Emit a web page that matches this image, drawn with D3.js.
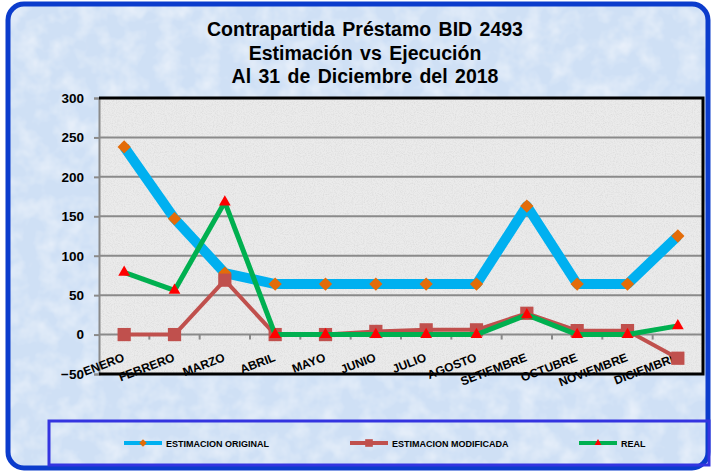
<!DOCTYPE html>
<html>
<head>
<meta charset="utf-8">
<script src="https://cdn.jsdelivr.net/npm/d3@7"></script>
<style>
body { margin: 0; background: #ffffff; }
</style>
</head>
<body>
<script>
var months = ["ENERO", "FEBRERO", "MARZO", "ABRIL", "MAYO", "JUNIO", "JULIO",
    "AGOSTO", "SETIEMBRE", "OCTUBRE", "NOVIEMBRE", "DICIEMBRE"];
var original = [238, 147, 78, 64, 64, 64, 64, 64, 163, 64, 64, 125];
var modificada = [0, 0, 69, 0, 0, 4, 6, 6, 27, 5, 5, -30];
var real = [79, 56, 168, 0, 0, 0, 0, 0, 25, 0, 0, 11];
var yTicks = [-50, 0, 50, 100, 150, 200, 250, 300];
var titleLines = ["Contrapartida Préstamo BID 2493", "Estimación vs Ejecución", "Al 31 de Diciembre del 2018"];
var legendNames = ["ESTIMACION ORIGINAL", "ESTIMACION MODIFICADA", "REAL"];

var svg = d3.select("body")
    .append("svg")
    .attr("width", 711)
    .attr("height", 473);

var defs = svg.append("defs");

// soft blue paper texture for the chart background
var f1 = defs.append("filter").attr("id", "paper")
    .attr("x", 0).attr("y", 0).attr("width", 1).attr("height", 1);
f1.append("feTurbulence").attr("type", "fractalNoise")
    .attr("baseFrequency", "0.05").attr("numOctaves", 3).attr("seed", 4).attr("result", "n");
f1.append("feColorMatrix").attr("in", "n").attr("type", "matrix")
    .attr("values", "0 0 0 0 1  0 0 0 0 1  0 0 0 0 1  0 0 0 -0.9 0.55").attr("result", "w");
f1.append("feComposite").attr("in", "w").attr("in2", "SourceGraphic").attr("operator", "atop");

// fine gray granite for the plot area
var f2 = defs.append("filter").attr("id", "granite")
    .attr("x", 0).attr("y", 0).attr("width", 1).attr("height", 1);
f2.append("feTurbulence").attr("type", "fractalNoise")
    .attr("baseFrequency", "0.9").attr("numOctaves", 2).attr("seed", 2).attr("result", "n");
f2.append("feColorMatrix").attr("in", "n").attr("type", "matrix")
    .attr("values", "0 0 0 0 0.6  0 0 0 0 0.6  0 0 0 0 0.6  0 0 0 -1.0 0.6").attr("result", "g");
f2.append("feComposite").attr("in", "g").attr("in2", "SourceGraphic").attr("operator", "atop");

svg.append("rect")
    .attr("x", 8).attr("y", 4)
    .attr("width", 700).attr("height", 464)
    .attr("rx", 16)
    .attr("fill", "#cfe0f5")
    .attr("filter", "url(#paper)");
svg.append("rect")
    .attr("x", 8).attr("y", 4)
    .attr("width", 700).attr("height", 464)
    .attr("rx", 16)
    .attr("fill", "none")
    .attr("stroke", "#0b3ccc")
    .attr("stroke-width", 5);

// title
svg.append("g")
    .selectAll("text")
    .data(titleLines)
    .enter()
        .append("text")
        .attr("x", 365)
        .attr("y", function (d, i) { return 36 + i * 23.5; })
        .attr("text-anchor", "middle")
        .style("font-family", "Liberation Sans, Arial, sans-serif")
        .style("font-weight", "bold")
        .style("font-size", "19.5px")
        .style("word-spacing", "2px")
        .attr("fill", "#000")
        .text(function (d) { return d; });

var plotLeft = 99, plotRight = 703, plotTop = 98, plotBottom = 374;

var x = d3.scaleBand().domain(months).range([plotLeft, plotRight]);
var y = d3.scaleLinear().domain([-50, 300]).range([plotBottom, plotTop]);
var cx = function (m) { return x(m) + x.bandwidth() / 2; };

svg.append("rect")
    .attr("x", plotLeft).attr("y", plotTop)
    .attr("width", plotRight - plotLeft).attr("height", plotBottom - plotTop)
    .attr("fill", "#ebebeb")
    .attr("filter", "url(#granite)");

// grid lines
svg.append("g")
    .selectAll("line")
    .data(yTicks.filter(function (d) { return d > 0 && d < 300; }))
    .enter()
        .append("line")
        .attr("x1", plotLeft).attr("x2", plotRight)
        .attr("y1", function (d) { return y(d); })
        .attr("y2", function (d) { return y(d); })
        .attr("stroke", "#8a8a8a")
        .attr("stroke-width", 2);

// y axis
var yAxis = svg.append("g")
    .attr("transform", "translate(" + plotLeft + ",0)")
    .call(d3.axisLeft(y).tickValues(yTicks).tickSize(5).tickPadding(10));
yAxis.select(".domain").attr("stroke", "#8a8a8a").attr("stroke-width", 2);
yAxis.selectAll(".tick line").attr("stroke", "#8a8a8a").attr("stroke-width", 2);
yAxis.selectAll(".tick text")
    .attr("fill", "#000")
    .style("font-family", "Liberation Sans, Arial, sans-serif")
    .style("font-weight", "bold")
    .style("font-size", "13.5px");

// x axis line at zero with ticks between months
svg.append("line")
    .attr("x1", plotLeft).attr("x2", plotRight)
    .attr("y1", y(0)).attr("y2", y(0))
    .attr("stroke", "#8a8a8a")
    .attr("stroke-width", 2);
svg.append("g")
    .selectAll("line")
    .data(months.slice(1))
    .enter()
        .append("line")
        .attr("x1", function (d) { return x(d); })
        .attr("x2", function (d) { return x(d); })
        .attr("y1", y(0)).attr("y2", y(0) + 5)
        .attr("stroke", "#8a8a8a")
        .attr("stroke-width", 2);

// plot frame
svg.append("path")
    .attr("d", "M" + plotLeft + "," + plotTop + "H" + plotRight + "V" + plotBottom + "H" + plotLeft)
    .attr("fill", "none")
    .attr("stroke", "#000")
    .attr("stroke-width", 3);

// month labels
svg.append("g")
    .selectAll("text")
    .data(months)
    .enter()
        .append("text")
        .attr("transform", function (d) { return "translate(" + (cx(d) + 1) + "," + (y(0) + 26) + ") rotate(-21)"; })
        .attr("text-anchor", "end")
        .style("font-family", "Liberation Sans, Arial, sans-serif")
        .style("font-weight", "bold")
        .style("font-size", "12px")
        .attr("fill", "#000")
        .text(function (d) { return d; });

var line = d3.line()
    .x(function (d) { return cx(d.m); })
    .y(function (d) { return y(d.v); });

function pts(vals) {
    return vals.map(function (v, i) { return {m: months[i], v: v}; });
}

var series = [
    {vals: original, color: "#00b0f0", w: 10, sym: d3.symbolSquare, size: 88, rot: 45, mc: "#e36c09"},
    {vals: modificada, color: "#c0504d", w: 4, sym: d3.symbolSquare, size: 175, rot: 0, mc: "#c0504d"},
    {vals: real, color: "#00b050", w: 5, sym: d3.symbolTriangle, size: 60, rot: 0, mc: "#ff0000"}
];

series.forEach(function (s) {
    svg.append("path")
        .datum(pts(s.vals))
        .attr("d", line)
        .attr("fill", "none")
        .attr("stroke", s.color)
        .attr("stroke-width", s.w)
        .attr("stroke-linejoin", "round");

    svg.append("g")
        .selectAll("path")
        .data(pts(s.vals))
        .enter()
            .append("path")
            .attr("d", d3.symbol().type(s.sym).size(s.size))
            .attr("transform", function (d) { return "translate(" + cx(d.m) + "," + y(d.v) + ") rotate(" + s.rot + ")"; })
            .attr("fill", s.mc);
});

// legend
svg.append("rect")
    .attr("x", 49).attr("y", 421)
    .attr("width", 660).attr("height", 44)
    .attr("fill", "none")
    .attr("stroke", "#3434e0")
    .attr("stroke-width", 3);

var legendX = [124, 350, 579];
var leg = svg.append("g")
    .selectAll("g")
    .data(series)
    .enter()
        .append("g")
        .attr("transform", function (d, i) { return "translate(" + legendX[i] + ",443)"; });
leg.append("line")
    .attr("x1", 0).attr("x2", 38)
    .attr("stroke", function (d) { return d.color; })
    .attr("stroke-width", 4);
leg.append("path")
    .attr("d", function (d) { return d3.symbol().type(d.sym).size(d.size / 3)(); })
    .attr("transform", function (d) { return "translate(19,0) rotate(" + d.rot + ")"; })
    .attr("fill", function (d) { return d.mc; });
leg.append("text")
    .attr("x", 42).attr("y", 3.5)
    .style("font-family", "Liberation Sans, Arial, sans-serif")
    .style("font-weight", "bold")
    .style("font-size", "9px")
    .attr("fill", "#000")
    .text(function (d, i) { return legendNames[i]; });
</script>
</body>
</html>
